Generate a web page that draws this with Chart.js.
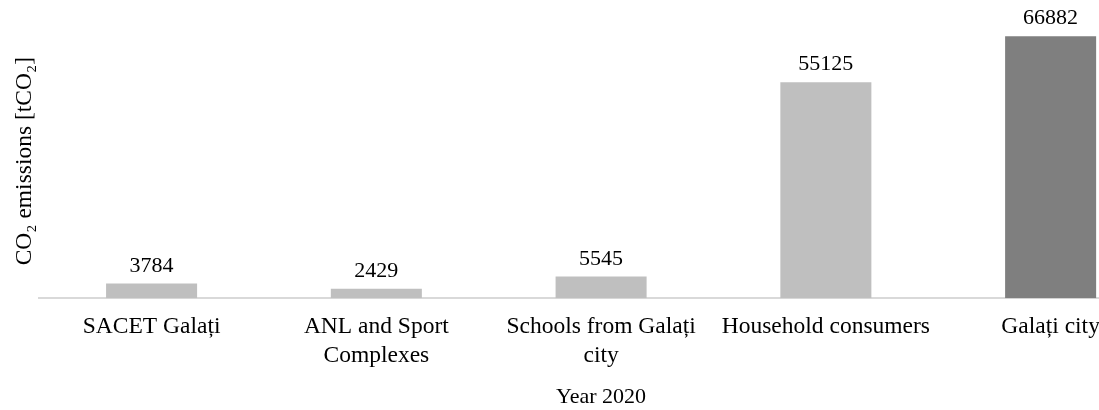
<!DOCTYPE html>
<html>
<head>
<meta charset="utf-8">
<script src="https://cdn.jsdelivr.net/npm/chart.js@4"></script>
<style>
  html, body { margin: 0; padding: 0; background: #fff; overflow: hidden; }
  #wrap { position: relative; width: 1180px; height: 410px; }
</style>
</head>
<body>
<div id="wrap"><canvas id="co2-chart"></canvas></div>
<script>
// categorias y valores (año 2020)
const categories = [
    "SACET Galați",
    ["ANL and Sport", "Complexes"],
    ["Schools from Galați", "city"],
    "Household consumers",
    "Galați city"
];
const emissions = [3784, 2429, 5545, 55125, 66882];
const barColors = ['#bfbfbf', '#bfbfbf', '#bfbfbf', '#bfbfbf', '#7f7f7f'];
const yTitle = 'CO₂ emissions [tCO₂]';
const xTitle = 'Year 2020';

const serif = '"Liberation Serif", "Times New Roman", serif';

// etiquetas encima de las barras
const valueLabels = {
    id: 'valueLabels',
    afterDatasetsDraw(chart) {
        const ctx = chart.ctx;
        const meta = chart.getDatasetMeta(0);
        ctx.save();
        ctx.font = '22px ' + serif;
        ctx.fillStyle = '#000';
        ctx.textAlign = 'center';
        ctx.textBaseline = 'alphabetic';
        meta.data.forEach((bar, i) => {
            ctx.fillText(String(emissions[i]), bar.x, bar.y - 12);
        });
        ctx.restore();
    }
};

const ctx = document.getElementById("co2-chart").getContext("2d");
new Chart(ctx, {
    type: 'bar',
    data: {
        labels: categories,
        datasets: [{
            data: emissions,
            backgroundColor: barColors,
            borderWidth: 0,
            barPercentage: 0.405,
            categoryPercentage: 1
        }]
    },
    options: {
        responsive: true,
        maintainAspectRatio: false,
        animation: false,
        layout: { padding: { left: 3, right: 17, top: 24, bottom: 0 } },
        plugins: {
            legend: { display: false },
            tooltip: { enabled: false }
        },
        scales: {
            x: {
                grid: { display: false, drawTicks: false },
                border: { display: true, color: '#d9d9d9', width: 2 },
                ticks: {
                    color: '#000',
                    font: { family: serif, size: 23.5, lineHeight: 1.23 },
                    padding: 14.5,
                    maxRotation: 0,
                    autoSkip: false
                },
                title: {
                    display: true,
                    text: xTitle,
                    color: '#000',
                    font: { family: serif, size: 22, lineHeight: 1.13 },
                    padding: { top: 0, bottom: 0 }
                }
            },
            y: {
                min: 0,
                max: 70000,
                grid: { display: false, drawTicks: false },
                border: { display: false },
                ticks: { display: false },
                title: {
                    display: true,
                    text: yTitle,
                    color: '#000',
                    font: { family: serif, size: 23.5 },
                    padding: { top: 8, bottom: 0 }
                }
            }
        }
    },
    plugins: [valueLabels]
});
</script>
</body>
</html>
